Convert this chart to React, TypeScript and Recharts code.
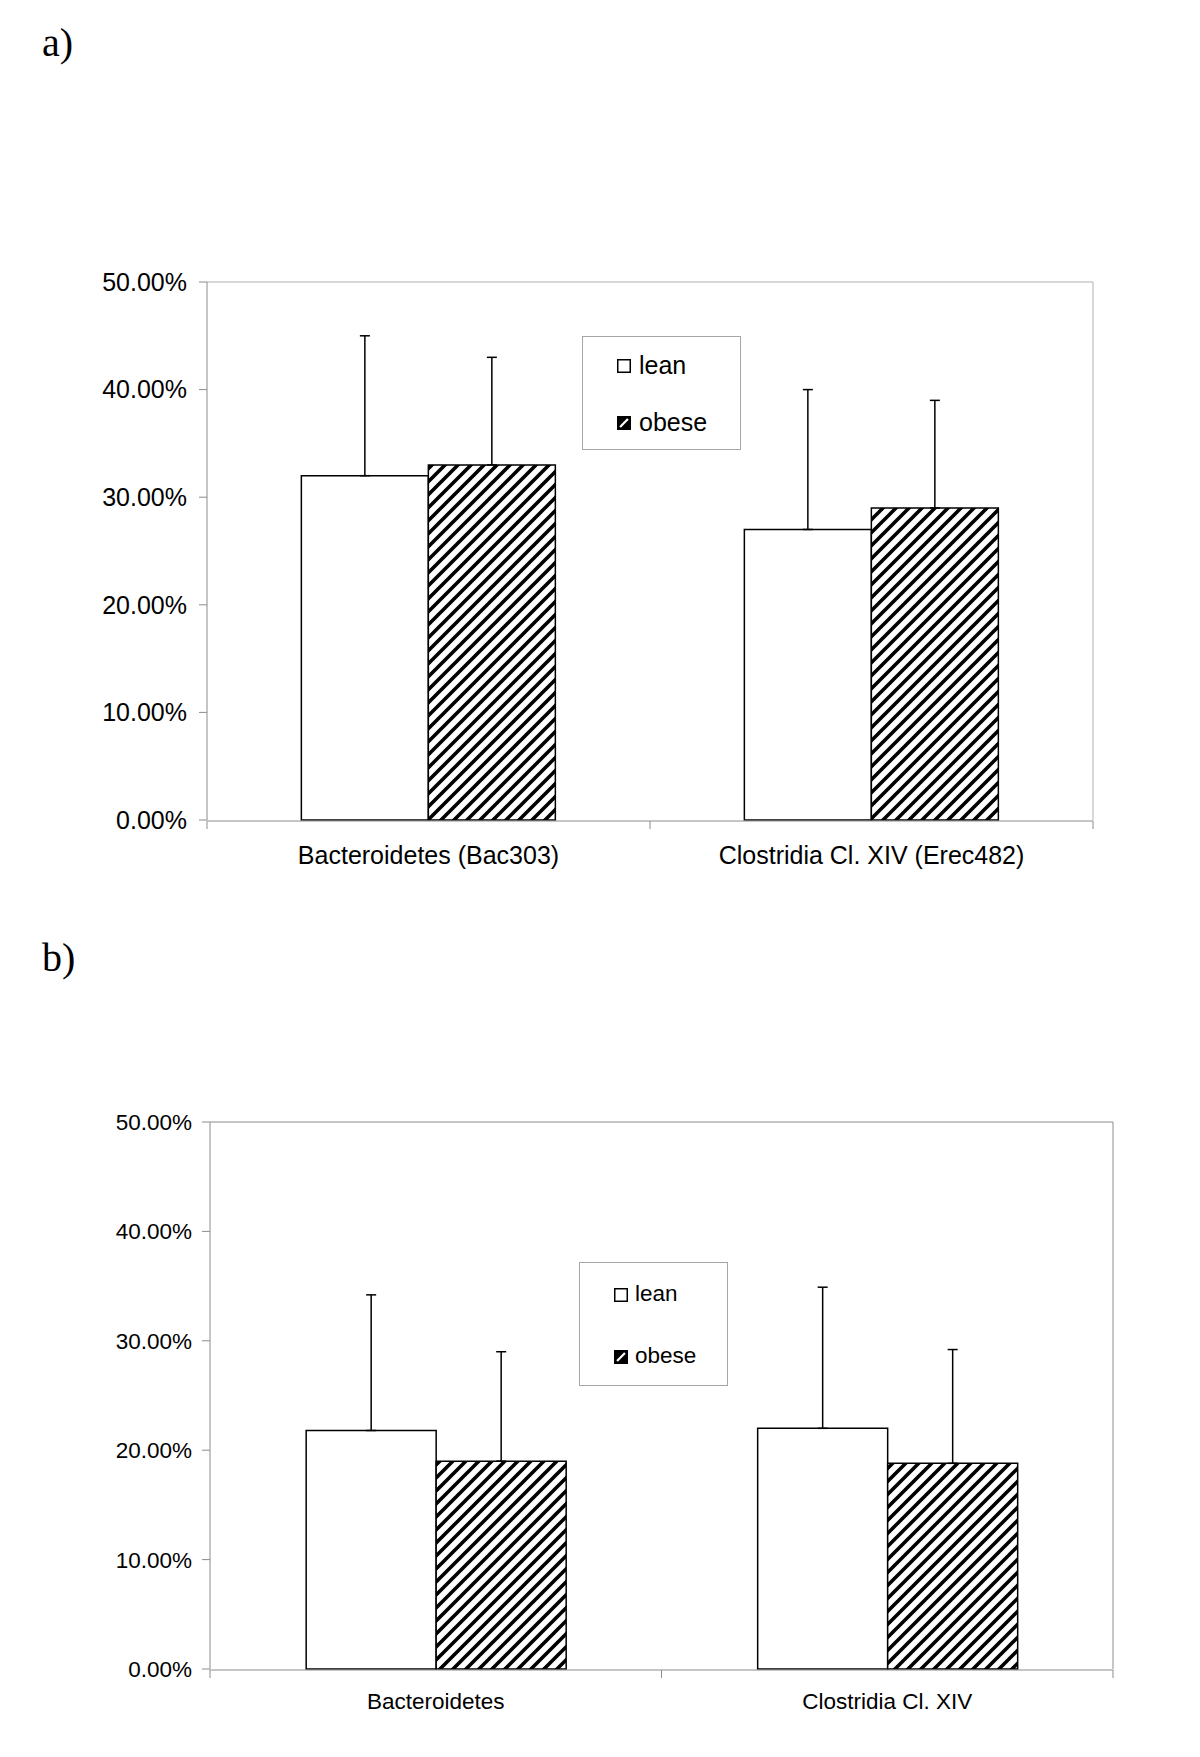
import React from "react";
import { Bar, BarChart, ErrorBar, Legend, XAxis, YAxis } from "recharts";

// panel a)
const categoriesA = ["Bacteroidetes (Bac303)", "Clostridia Cl. XIV (Erec482)"];
const leanA = [32, 27];
const leanErrA = [13, 13];
const obeseA = [33, 29];
const obeseErrA = [10, 10];

// panel b)
const categoriesB = ["Bacteroidetes", "Clostridia Cl. XIV"];
const leanB = [21.8, 22.0];
const leanErrB = [12.4, 12.9];
const obeseB = [19.0, 18.8];
const obeseErrB = [10.0, 10.4];

const yTicks = [0, 10, 20, 30, 40, 50];
const edgeTicks = [0, 1, 2];
const seriesNames = ["lean", "obese"];

const FONT = "'Liberation Sans', Arial, sans-serif";

function buildRows(cats: string[], lean: number[], leanErr: number[], obese: number[], obeseErr: number[]) {
  return cats.map((name, i) => ({
    name,
    pos: i + 0.5,
    lean: lean[i],
    leanErr: [0, leanErr[i]],
    obese: obese[i],
    obeseErr: [0, obeseErr[i]],
  }));
}

function LegendIcon({ kind, size }: { kind: string; size: number }) {
  if (kind === "lean") {
    return (
      <svg width={size} height={size} style={{ display: "block" }}>
        <rect x={0.75} y={0.75} width={size - 1.5} height={size - 1.5} fill="#fff" stroke="#000" strokeWidth={1.5} />
      </svg>
    );
  }
  return (
    <svg width={size} height={size} style={{ display: "block" }}>
      <rect x={0.75} y={0.75} width={size - 1.5} height={size - 1.5} fill="#000" stroke="#000" strokeWidth={1.5} />
      <path d={`M${size * 0.22} ${size * 0.78} L${size * 0.78} ${size * 0.22}`} stroke="#fff" strokeWidth={2.2} />
    </svg>
  );
}

interface LegendLayout {
  fontSize: number;
  iconSize: number;
  iconLeft: number;
  textLeft: number;
  iconTops: number[];
  baselines: number[];
}

function LegendBox({ lay }: { lay: LegendLayout }) {
  return (
    <div style={{ position: "relative", width: "100%", height: "100%", boxSizing: "border-box", border: "1px solid #a6a6a6", background: "#fff", fontFamily: FONT, fontSize: lay.fontSize, color: "#000" }}>
      {seriesNames.map((name, i) => (
        <React.Fragment key={name}>
          <div style={{ position: "absolute", left: lay.iconLeft - 1, top: lay.iconTops[i] - 1 }}>
            <LegendIcon kind={name} size={lay.iconSize} />
          </div>
          <div style={{ position: "absolute", left: lay.textLeft - 1, top: lay.baselines[i] - 1 - 0.8465 * lay.fontSize, lineHeight: 1, whiteSpace: "nowrap" }}>
            {name}
          </div>
        </React.Fragment>
      ))}
    </div>
  );
}

interface PanelProps {
  id: string;
  data: ReturnType<typeof buildRows>;
  width: number;
  height: number;
  margin: { top: number; right: number; bottom: number; left: number };
  yAxisWidth: number;
  fontSize: number;
  yTickMargin: number;
  xTickMargin: number;
  borderColor: string;
  legendBox: { left: number; top: number; width: number; height: number };
  legendLayout: LegendLayout;
}

function Panel(p: PanelProps) {
  const tickStyle = { fill: "#000", fontSize: p.fontSize, fontFamily: FONT };
  return (
    <BarChart width={p.width} height={p.height} data={p.data} margin={p.margin} barCategoryGap="21.3%" barGap={0}>
      <defs>
        <pattern id={`hatch-${p.id}`} patternUnits="userSpaceOnUse" width={13} height={13}>
          <rect width={13} height={13} fill="#fff" />
          <path d="M-3.25,3.25 l6.5,-6.5 M0,13 l13,-13 M9.75,16.25 l6.5,-6.5" stroke="#000" strokeWidth={3.6} />
        </pattern>
      </defs>
      <XAxis xAxisId="top" orientation="top" type="number" dataKey="pos" domain={[0, 2]} ticks={edgeTicks} height={1} tickLine={false} tickFormatter={() => ""} axisLine={{ stroke: p.borderColor }} />
      <XAxis xAxisId="edge" type="number" dataKey="pos" domain={[0, 2]} ticks={edgeTicks} height={1} tickSize={8} tickLine={{ stroke: "#8c8c8c" }} tickFormatter={() => ""} axisLine={{ stroke: "#8c8c8c" }} />
      <XAxis xAxisId="cat" dataKey="name" height={1} axisLine={false} tickLine={false} tickSize={0} tickMargin={p.xTickMargin} tick={tickStyle} interval={0} />
      <YAxis yAxisId="l" domain={[0, 50]} ticks={yTicks} interval={0} width={p.yAxisWidth} tickSize={8} tickMargin={p.yTickMargin} tick={tickStyle} tickLine={{ stroke: "#8c8c8c" }} axisLine={{ stroke: "#8c8c8c" }} tickFormatter={(v: number) => `${v.toFixed(2)}%`} />
      <YAxis yAxisId="r" orientation="right" domain={[0, 50]} ticks={yTicks} width={1} tickLine={false} tickFormatter={() => ""} axisLine={{ stroke: p.borderColor }} />
      <Legend layout="vertical" align="center" verticalAlign="middle" wrapperStyle={{ ...p.legendBox, margin: 0 }} content={() => <LegendBox lay={p.legendLayout} />} />
      <Bar xAxisId="cat" yAxisId="l" dataKey="lean" name="lean" fill="#fff" stroke="#000" strokeWidth={1.5} isAnimationActive={false}>
        <ErrorBar dataKey="leanErr" direction="y" width={5} stroke="#000" strokeWidth={1.5} />
      </Bar>
      <Bar xAxisId="cat" yAxisId="l" dataKey="obese" name="obese" fill={`url(#hatch-${p.id})`} stroke="#000" strokeWidth={1.5} isAnimationActive={false}>
        <ErrorBar dataKey="obeseErr" direction="y" width={5} stroke="#000" strokeWidth={1.5} />
      </Bar>
    </BarChart>
  );
}

const dataA = buildRows(categoriesA, leanA, leanErrA, obeseA, obeseErrA);
const dataB = buildRows(categoriesB, leanB, leanErrB, obeseB, obeseErrB);

export default function App() {
  const panelLabel = { position: "absolute" as const, fontFamily: "'Liberation Serif', 'Times New Roman', serif", fontSize: 40, lineHeight: 1, color: "#000" };
  return (
    <div style={{ position: "absolute", left: 0, top: 0, width: 1200, height: 1757, background: "#fff", overflow: "hidden" }}>
      <div style={{ ...panelLabel, left: 42, top: 23 }}>a)</div>
      <div style={{ ...panelLabel, left: 42, top: 938 }}>b)</div>
      <div style={{ position: "absolute", left: 0, top: 0 }}>
        <Panel
          id="a"
          data={dataA}
          width={1200}
          height={900}
          margin={{ top: 281, right: 106, bottom: 78, left: 0 }}
          yAxisWidth={207}
          fontSize={25}
          yTickMargin={12}
          xTickMargin={26}
          borderColor="#b0b0b0"
          legendBox={{ left: 582, top: 336, width: 159, height: 114 }}
          legendLayout={{ fontSize: 25, iconSize: 14, iconLeft: 35, textLeft: 57, iconTops: [23, 80], baselines: [38, 95] }}
        />
      </div>
      <div style={{ position: "absolute", left: 0, top: 900 }}>
        <Panel
          id="b"
          data={dataB}
          width={1200}
          height={850}
          margin={{ top: 221, right: 86, bottom: 79, left: 0 }}
          yAxisWidth={210}
          fontSize={22.5}
          yTickMargin={10}
          xTickMargin={24}
          borderColor="#8c8c8c"
          legendBox={{ left: 579, top: 362, width: 149, height: 124 }}
          legendLayout={{ fontSize: 22.5, iconSize: 14, iconLeft: 35, textLeft: 56, iconTops: [26, 88], baselines: [40, 102] }}
        />
      </div>
    </div>
  );
}
